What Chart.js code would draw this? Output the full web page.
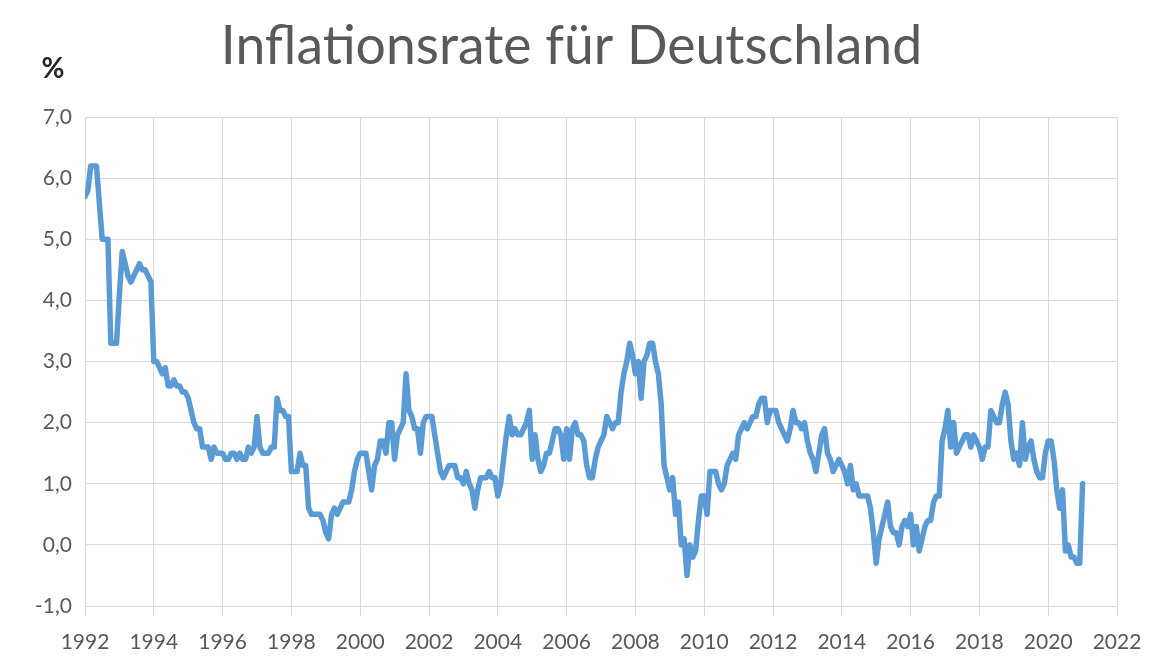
<!DOCTYPE html>
<html><head><meta charset="utf-8">
<script src="https://cdn.jsdelivr.net/npm/chart.js@4.4.1/dist/chart.umd.min.js"></script>
<style>html,body{margin:0;padding:0;background:#fff;} canvas{display:block;}</style>
</head><body>
<canvas id="c" width="1149" height="656"></canvas>
<script>
const chartTitle = 'Inflationsrate für Deutschland';
const unitLabel = '%';
const startYear = 1992; // first value = January 1992, monthly
const xTickYears = [1992,1994,1996,1998,2000,2002,2004,2006,2008,2010,2012,2014,2016,2018,2020,2022];
const yTickValues = [-1,0,1,2,3,4,5,6,7];

const infl1990s = [
  5.7,5.8,6.2,6.2,6.2,5.6,5.0,5.0,5.0,3.3,3.3,3.3,
  4.1,4.8,4.6,4.4,4.3,4.4,4.5,4.6,4.5,4.5,4.4,4.3,
  3.0,3.0,2.9,2.8,2.9,2.6,2.6,2.7,2.6,2.6,2.5,2.5,
  2.4,2.2,2.0,1.9,1.9,1.6,1.6,1.6,1.4,1.6,1.5,1.5,
  1.5,1.4,1.4,1.5,1.5,1.4,1.5,1.4,1.4,1.6,1.5,1.6,
  2.1,1.6,1.5,1.5,1.5,1.6,1.6,2.4,2.2,2.2,2.1,2.1,
  1.2,1.2,1.2,1.5,1.3,1.3,0.6,0.5,0.5,0.5,0.5,0.4,
  0.2,0.1,0.5,0.6,0.5,0.6,0.7,0.7,0.7,0.9,1.2,1.4
];
const infl2000s = [
  1.5,1.5,1.5,1.2,0.9,1.3,1.4,1.7,1.7,1.5,2.0,2.0,
  1.4,1.8,1.9,2.0,2.8,2.2,2.1,1.9,1.9,1.5,2.0,2.1,
  2.1,2.1,1.8,1.5,1.2,1.1,1.2,1.3,1.3,1.3,1.1,1.1,
  1.0,1.2,1.0,0.9,0.6,0.9,1.1,1.1,1.1,1.2,1.1,1.1,
  0.8,1.0,1.4,1.8,2.1,1.8,1.9,1.8,1.8,1.9,2.0,2.2,
  1.4,1.8,1.4,1.2,1.3,1.5,1.5,1.7,1.9,1.9,1.8,1.4,
  1.9,1.4,1.9,2.0,1.8,1.8,1.7,1.3,1.1,1.1,1.4,1.6,
  1.7,1.8,2.1,2.0,1.9,2.0,2.0,2.5,2.8,3.0,3.3,3.1,
  2.8,3.0,2.4,3.0,3.1,3.3,3.3,3.0,2.8,2.3,1.3,1.1,
  0.9,1.1,0.5,0.7,0.0,0.1,-0.5,0.0,-0.2,-0.1,0.4,0.8
];
const infl2010s = [
  0.8,0.5,1.2,1.2,1.2,1.0,0.9,1.0,1.3,1.4,1.5,1.4,
  1.8,1.9,2.0,1.9,2.0,2.1,2.1,2.3,2.4,2.4,2.0,2.2,
  2.2,2.2,2.0,1.9,1.8,1.7,1.9,2.2,2.0,2.0,1.9,2.0,
  1.7,1.5,1.4,1.2,1.5,1.8,1.9,1.5,1.4,1.2,1.3,1.4,
  1.3,1.2,1.0,1.3,0.9,1.0,0.8,0.8,0.8,0.8,0.6,0.2,
  -0.3,0.1,0.3,0.5,0.7,0.3,0.2,0.2,0.0,0.3,0.4,0.3,
  0.5,0.0,0.3,-0.1,0.1,0.3,0.4,0.4,0.7,0.8,0.8,1.7,
  1.9,2.2,1.6,2.0,1.5,1.6,1.7,1.8,1.8,1.6,1.8,1.7,
  1.6,1.4,1.6,1.6,2.2,2.1,2.0,2.0,2.3,2.5,2.3,1.7,
  1.4,1.5,1.3,2.0,1.4,1.6,1.7,1.4,1.2,1.1,1.1,1.5
];
const infl2020s = [
  1.7,1.7,1.4,0.9,0.6,0.9,-0.1,0.0,-0.2,-0.2,-0.3,-0.3,
  1.0
];

const inflation = infl1990s.concat(infl2000s, infl2010s, infl2020s);
const points = inflation.map((v, i) => ({ x: startYear + i / 12, y: v }));

const fontFamily = 'Lato, "Open Sans", sans-serif';
const textGray = '#595959';
const gridGray = '#d9d9d9';

const unitPlugin = {
  id: 'unitLabel',
  afterDraw(chart) {
    const ctx = chart.ctx;
    ctx.save();
    ctx.font = 'bold 28px ' + fontFamily;
    ctx.fillStyle = '#262626';
    ctx.textAlign = 'center';
    ctx.textBaseline = 'alphabetic';
    ctx.fillText(unitLabel, 53, 78);
    ctx.restore();
  }
};

new Chart(document.getElementById('c'), {
  type: 'line',
  data: {
    datasets: [{
      data: points,
      borderColor: '#5B9BD5',
      backgroundColor: '#5B9BD5',
      borderWidth: 5.5,
      pointRadius: 0,
      pointHoverRadius: 0,
      tension: 0,
      borderJoinStyle: 'round',
      borderCapStyle: 'round',
      fill: false
    }]
  },
  options: {
    responsive: false,
    animation: false,
    devicePixelRatio: 1,
    layout: { padding: { left: 26, right: 32, top: 0, bottom: 0 } },
    plugins: {
      legend: { display: false },
      tooltip: { enabled: false },
      title: {
        display: true,
        text: chartTitle,
        color: textGray,
        font: { family: fontFamily, size: 53.5, weight: 'normal', lineHeight: 1.2 },
        padding: { top: 15, bottom: 37.8 }
      }
    },
    scales: {
      x: {
        type: 'linear',
        min: xTickYears[0],
        max: xTickYears[xTickYears.length - 1],
        afterBuildTicks: s => { s.ticks = xTickYears.map(v => ({ value: v })); },
        afterFit: s => { s.height = 50; s.paddingLeft = 25; s.paddingRight = 25; },
        ticks: {
          color: textGray,
          font: { family: fontFamily, size: 21 },
          padding: 14,
          maxRotation: 0,
          autoSkip: false,
          callback: v => String(v)
        },
        grid: { color: gridGray, lineWidth: 1, drawTicks: true, tickLength: 10, tickColor: gridGray },
        border: { display: true, color: gridGray, width: 1 }
      },
      y: {
        min: yTickValues[0],
        max: yTickValues[yTickValues.length - 1],
        afterBuildTicks: s => { s.ticks = yTickValues.map(v => ({ value: v })); },
        afterFit: s => { s.width = 59; },
        ticks: {
          color: textGray,
          font: { family: fontFamily, size: 21 },
          padding: 13,
          callback: v => Number(v).toFixed(1).replace('.', ',')
        },
        grid: { color: gridGray, lineWidth: 1, drawTicks: false },
        border: { display: false }
      }
    }
  },
  plugins: [unitPlugin]
});
</script>
</body></html>
